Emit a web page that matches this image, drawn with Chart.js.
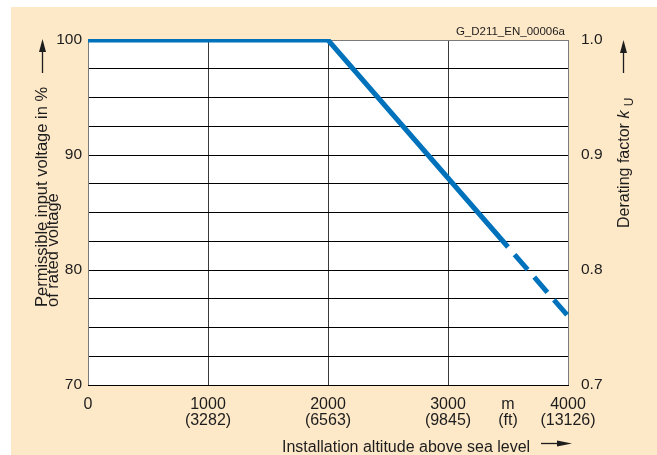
<!DOCTYPE html>
<html>
<head>
<meta charset="utf-8">
<script src="https://cdn.jsdelivr.net/npm/chart.js@4.4.1/dist/chart.umd.min.js"></script>
<style>
  html, body { margin: 0; padding: 0; background: #fff; }
  #wrap { position: relative; width: 657px; height: 455px; }
</style>
</head>
<body>
<div id="wrap"><canvas id="derating" width="657" height="455"></canvas></div>
<script>
// --- data ---
const altitudeM = [0, 2000, 3500];        // solid part of the curve
const voltagePct = [100, 100, 82];
const altitudeDashed = [3500, 4000];      // dashed continuation
const voltageDashed = [82, 76];

const xTicks = [0, 1000, 2000, 3000, 4000];
const xTicksFeet = ['', '(3282)', '(6563)', '(9845)', '(13126)'];
const yLeftLabels = [70, 80, 90, 100];
const yRightLabels = ['0.7', '0.8', '0.9', '1.0'];

const FONT = '"Liberation Sans", Arial, sans-serif';
const INK = '#1d1d1d';
const BLUE = '#0072bc';

// background + decorations
const decor = {
    id: 'decor',
    beforeDraw(chart) {
        const { ctx, chartArea: a } = chart;
        ctx.save();
        ctx.fillStyle = '#fde8c8';
        ctx.fillRect(11, 7, chart.width - 11, chart.height - 7);
        ctx.fillStyle = '#ffffff';
        ctx.fillRect(a.left, a.top, a.right - a.left, a.bottom - a.top);
        ctx.restore();
    },
    beforeDatasetsDraw(chart) {
        const { ctx, chartArea: a } = chart;
        ctx.save();
        ctx.strokeStyle = '#7a7a7a';
        ctx.lineWidth = 1;
        ctx.beginPath();
        ctx.moveTo(a.left + 0.5, a.bottom + 0.5);
        ctx.lineTo(a.left + 0.5, a.top + 0.5);
        ctx.lineTo(a.right + 0.5, a.top + 0.5);
        ctx.lineTo(a.right + 0.5, a.bottom + 0.5);
        ctx.stroke();
        ctx.strokeStyle = '#000';
        ctx.beginPath();
        ctx.moveTo(a.left, a.bottom + 0.5);
        ctx.lineTo(a.right + 1, a.bottom + 0.5);
        ctx.stroke();
        ctx.restore();
    },
    afterDraw(chart) {
        const { ctx, chartArea: a } = chart;
        const arrowUp = (x, yTop, yBottom) => {
            ctx.beginPath();
            ctx.moveTo(x, yBottom); ctx.lineTo(x, yTop + 8);
            ctx.stroke();
            ctx.beginPath();
            ctx.moveTo(x, yTop); ctx.lineTo(x - 3.5, yTop + 13); ctx.lineTo(x + 3.5, yTop + 13);
            ctx.closePath(); ctx.fill();
        };
        ctx.save();
        ctx.fillStyle = INK;
        ctx.strokeStyle = INK;
        ctx.lineWidth = 1.3;

        // drawing id
        ctx.font = '11.5px ' + FONT;
        ctx.textAlign = 'right';
        ctx.textBaseline = 'alphabetic';
        ctx.fillText('G_D211_EN_00006a', a.right - 3, a.top - 5);

        // left title
        ctx.font = '16.5px ' + FONT;
        ctx.save();
        ctx.translate(42, 307);
        ctx.rotate(-Math.PI / 2);
        ctx.textAlign = 'left';
        ctx.textBaseline = 'middle';
        ctx.fillText('Permissible input voltage in %', 0, 0);
        ctx.fillText('of rated voltage', 0, 11.5);
        ctx.restore();
        arrowUp(42.5, 39, 73);

        // right title
        ctx.save();
        ctx.translate(625, 228);
        ctx.rotate(-Math.PI / 2);
        ctx.textAlign = 'left';
        ctx.textBaseline = 'middle';
        ctx.font = '16px ' + FONT;
        const t1 = 'Derating factor ';
        ctx.fillText(t1, 0, 0);
        let off = ctx.measureText(t1).width;
        ctx.font = 'italic 16px ' + FONT;
        ctx.fillText('k', off, 0);
        off += ctx.measureText('k ').width;
        ctx.font = '12px ' + FONT;
        ctx.fillText('U', off, 5);
        ctx.restore();
        arrowUp(623.5, 40, 73);

        // unit labels between 3000 and 4000
        ctx.font = '16px ' + FONT;
        ctx.textAlign = 'center';
        ctx.textBaseline = 'middle';
        ctx.fillText('m', 508, 405);
        ctx.fillText('(ft)', 508, 421);

        // x title with arrow
        ctx.font = '16px ' + FONT;
        ctx.textAlign = 'left';
        ctx.textBaseline = 'alphabetic';
        ctx.fillText('Installation altitude above sea level', 282, 451.5);
        ctx.beginPath();
        ctx.moveTo(541, 443.5); ctx.lineTo(560, 443.5);
        ctx.stroke();
        ctx.beginPath();
        ctx.moveTo(572, 443.5); ctx.lineTo(557, 440.5); ctx.lineTo(557, 446.5);
        ctx.closePath(); ctx.fill();
        ctx.restore();
    }
};

const ctxMain = document.getElementById('derating').getContext('2d');
const chart = new Chart(ctxMain, {
    type: 'line',
    data: {
        datasets: [
            {
                data: altitudeM.map((x, i) => ({ x, y: voltagePct[i] })),
                borderColor: BLUE,
                borderWidth: 5,
                pointRadius: 0,
                tension: 0,
                borderCapStyle: 'butt',
                clip: { left: 0, top: 1, right: 3, bottom: 3 }
            },
            {
                data: altitudeDashed.map((x, i) => ({ x, y: voltageDashed[i] })),
                borderColor: BLUE,
                borderWidth: 5,
                pointRadius: 0,
                borderDash: [20, 10],
                borderDashOffset: 20,
                borderCapStyle: 'butt',
                clip: { left: 0, top: 1, right: 3, bottom: 3 }
            }
        ]
    },
    options: {
        responsive: false,
        animation: false,
        devicePixelRatio: 1,
        layout: { padding: { top: 40, left: 0, right: 0, bottom: 0 } },
        plugins: { legend: { display: false }, tooltip: { enabled: false } },
        scales: {
            x: {
                type: 'linear',
                min: 0, max: 4000,
                afterFit: s => { s.height = 70; },
                afterBuildTicks: s => { s.ticks = xTicks.map(v => ({ value: v })); },
                border: { display: false },
                grid: {
                    drawTicks: false,
                    lineWidth: 1,
                    color: c => (c.tick && c.tick.value === 4000) ? '#7a7a7a' : '#3a3a3a'
                },
                ticks: {
                    padding: 12,
                    maxRotation: 0,
                    autoSkip: false,
                    color: INK,
                    font: { family: FONT, size: 16, lineHeight: 1.0 },
                    callback: v => {
                        const i = xTicks.indexOf(v);
                        return xTicksFeet[i] ? [String(v), xTicksFeet[i]] : String(v);
                    }
                }
            },
            y: {
                position: 'left',
                min: 70, max: 100,
                afterFit: s => { s.width = 88; },
                border: { display: false },
                grid: {
                    drawTicks: false,
                    lineWidth: 1,
                    color: c => (c.tick && c.tick.value === 100) ? '#7a7a7a' : '#000'
                },
                ticks: {
                    stepSize: 2.5,
                    padding: 6,
                    autoSkip: false,
                    color: INK,
                    font: { family: FONT, size: 15.5 },
                    callback: v => yLeftLabels.includes(v) ? String(v) : ''
                }
            },
            y2: {
                position: 'right',
                min: 0.7, max: 1.0,
                afterFit: s => { s.width = 89; },
                afterBuildTicks: s => { s.ticks = yRightLabels.map(v => ({ value: parseFloat(v) })); },
                border: { display: false },
                grid: { display: false, drawTicks: false },
                ticks: {
                    padding: 13,
                    color: INK,
                    font: { family: FONT, size: 15.5 },
                    callback: v => yRightLabels.find(l => Math.abs(parseFloat(l) - v) < 1e-6)
                }
            }
        }
    },
    plugins: [decor]
});
</script>
</body>
</html>
